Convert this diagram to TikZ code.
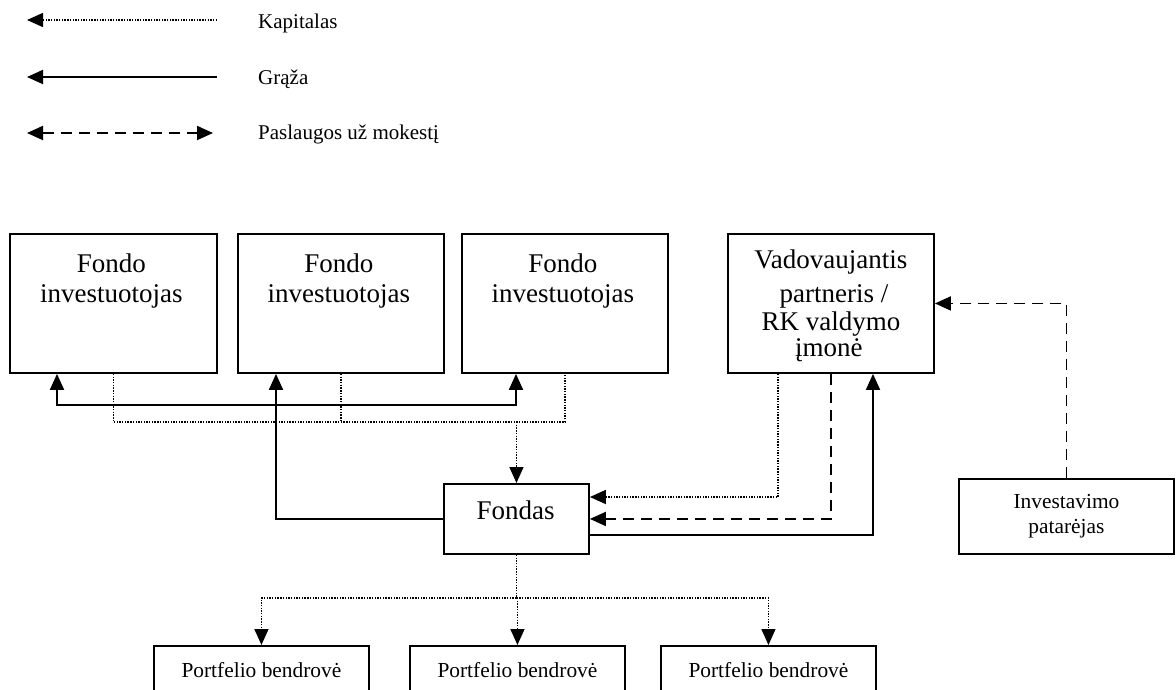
\documentclass[tikz,border=0pt]{standalone}
\usepackage{fontspec}
\setmainfont{Liberation Serif}
\usetikzlibrary{arrows.meta,calc}
\begin{document}
\begin{tikzpicture}[x=1pt,y=-1pt,
  >={Triangle[length=16pt,width=14pt]},
  box/.style={draw=black, line width=1.9pt, inner sep=0pt, anchor=north west},
  boxtxt/.style={font=\fontsize{27}{28}\selectfont, align=center, inner sep=0pt},
  smalltxt/.style={font=\fontsize{21.4}{25}\selectfont, align=center, inner sep=0pt},
  legtxt/.style={font=\fontsize{21}{25}\selectfont, inner sep=0pt, anchor=base west},
  ret/.style={line width=1.9pt},
  capflow/.style={line width=1.5pt, dash pattern=on 1.4pt off 1.3pt},
  svc/.style={line width=1.9pt, dash pattern=on 11pt off 7pt}
]
\clip (0,0) rectangle (1176,689);

% ---------- legend ----------
\coordinate (lk1) at (27,20);  \coordinate (lk2) at (217,20);
\coordinate (lg1) at (27,77);  \coordinate (lg2) at (217,77);
\coordinate (lp1) at (27,133); \coordinate (lp2) at (213,133);
\draw[capflow,->] (lk2) -- (lk1);
\draw[ret,->] (lg2) -- (lg1);
\draw[svc,<->] (lp1) -- (lp2);
\node[legtxt] (legk) at (258,28) {Kapitalas};
\node[legtxt] (legg) at (258,84) {Grąža};
\node[legtxt] (legp) at (258,139) {Paslaugos už mokestį};

% ---------- boxes ----------
\node[box, minimum width=207pt, minimum height=139pt] (b1) at (9,233) {};
\node[box, minimum width=206pt, minimum height=139pt] (b2) at (237,233) {};
\node[box, minimum width=206pt, minimum height=139pt] (b3) at (461,233) {};
\node[box, minimum width=206pt, minimum height=139pt] (b4) at (727,233) {};
\node[box, minimum width=145pt, minimum height=70pt] (fondas) at (443,483) {};
\node[box, minimum width=215pt, minimum height=75pt] (inv) at (958,478) {};
\node[box, minimum width=215pt, minimum height=80pt] (p1) at (153,645) {};
\node[box, minimum width=215pt, minimum height=80pt] (p2) at (409,645) {};
\node[box, minimum width=215pt, minimum height=80pt] (p3) at (660,645) {};

% ---------- texts ----------
\node[boxtxt, anchor=north] (t1) at ($(b1.north)+(-2,20.5)$) {Fondo\\[2pt]investuotojas};
\node[boxtxt, anchor=north] (t2) at ($(b2.north)+(-2,20.5)$) {Fondo\\[2pt]investuotojas};
\node[boxtxt, anchor=north] (t3) at ($(b3.north)+(-2,20.5)$) {Fondo\\[2pt]investuotojas};
\node[boxtxt, anchor=north] (t4) at ($(b4.north)+(0,17)$) {Vadovaujantis\\[6pt]\hspace*{6pt}partneris /\\RK valdymo\\[-2pt]\hspace*{-4pt}įmonė};
\node[boxtxt, anchor=base] (tf) at (515.5,519) {Fondas};
\node[smalltxt, anchor=north] (ti) at ($(inv.north)+(0,16.5)$) {Investavimo\\patarėjas};
\node[smalltxt, anchor=base] (tp1) at ($(p1.north)+(0,32)$) {Portfelio bendrovė};
\node[smalltxt, anchor=base] (tp2) at ($(p2.north)+(0,32)$) {Portfelio bendrovė};
\node[smalltxt, anchor=base] (tp3) at ($(p3.north)+(0,32)$) {Portfelio bendrovė};

% ---------- helper coordinates ----------
\coordinate (b1in) at ($(b1.south west)+(48,0)$);
\coordinate (b2in) at ($(b2.south west)+(39,0)$);
\coordinate (b3in) at ($(b3.south west)+(55,0)$);
\coordinate (retbar) at (0,405);
\coordinate (capbar) at (0,422);
\coordinate (b4cap) at ($(b4.south west)+(51,0)$);
\coordinate (b4ret) at ($(b4.south west)+(146,0)$);
\coordinate (fcapin) at ($(fondas.north east)+(0,14)$);
\coordinate (fret) at ($(fondas.south east)+(0,-20)$);
\coordinate (pbar) at (0,598);

% ---------- returns (solid) ----------
\draw[ret,->] (fondas.west) -| (b2in);
\draw[ret,<->] (b1in) -- (b1in |- retbar) -- (b3in |- retbar) -- (b3in);
\draw[ret,->] (fret) -| (b4ret);

% ---------- capital (dotted) ----------
\draw[capflow] (b1.south) -- (b1.south |- capbar) -- (b3.south |- capbar) -- (b3.south);
\draw[capflow] (b2.south) -- (b2.south |- capbar);
\draw[capflow,->] (fondas.north |- capbar) -- (fondas.north);
\draw[capflow,->] (b4cap) |- (fcapin);
\draw[capflow] (fondas.south) -- (fondas.south |- pbar);
\draw[capflow,->] (fondas.south |- pbar) -| (p1.north);
\draw[capflow,->] (fondas.south |- pbar) -| (p3.north);
\draw[capflow,->] (p2.north |- pbar) -- (p2.north);

% ---------- services (dashed) ----------
\draw[svc,->] (b4.south) |- (fondas.east);
\draw[svc,->] (inv.north) |- (b4.east);
\end{tikzpicture}
\end{document}
